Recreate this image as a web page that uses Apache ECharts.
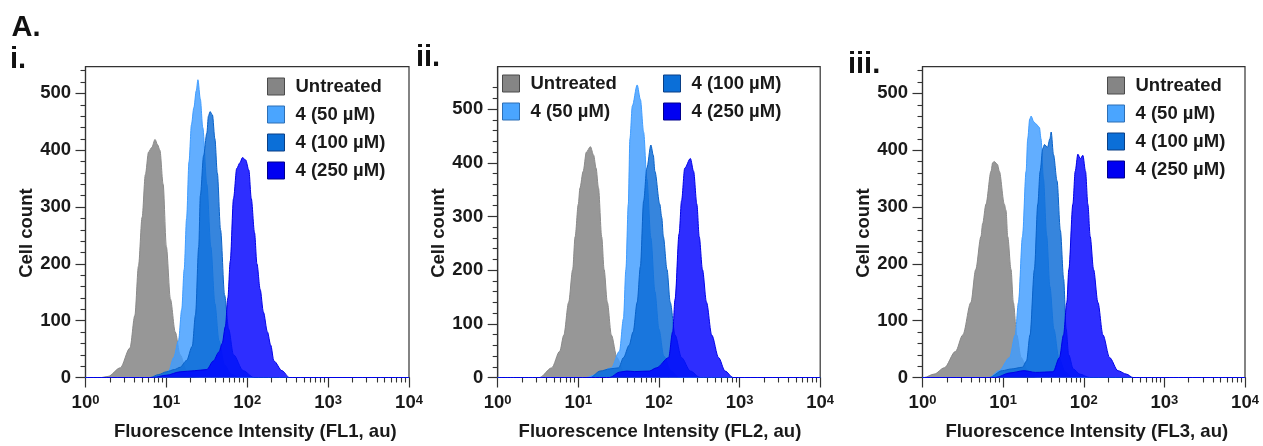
<!DOCTYPE html>
<html><head><meta charset="utf-8">
<script src="https://cdn.jsdelivr.net/npm/echarts@6/dist/echarts.min.js"></script>
<style>html,body{margin:0;padding:0;background:#fff}#c{width:1263px;height:446px}</style>
</head><body><div id="c"></div>
<script>
// ---------- text ----------
const seriesNames = ['Untreated', '4 (50 µM)', '4 (100 µM)', '4 (250 µM)'];
const figureLabel = 'A.';
const panelLabels = ['i.', 'ii.', 'iii.'];
const xTitles = ['Fluorescence Intensity (FL1, au)', 'Fluorescence Intensity (FL2, au)', 'Fluorescence Intensity (FL3, au)'];
const yTitle = 'Cell count';
const xTickExponents = ['0', '1', '2', '3', '4'];          // labels 10^n
const yTickValues = [0, 100, 200, 300, 400, 500];
const yMinorValues = [20, 40, 60, 80, 120, 140, 160, 180, 220, 240, 260, 280, 320, 340, 360, 380, 420, 440, 460, 480, 520, 540];

// ---------- data: [log10 fluorescence intensity, cell count] ----------
const fl1Untreated = [[0,0],[0.20,0],[0.28,2],[0.43,17],[0.55,52],[0.61,109],[0.655,196],[0.70,282],[0.74,357],[0.78,397],[0.82,405],[0.86,419],[0.89,410],[0.92,400],[0.96,340],[1.00,230],[1.05,138],[1.11,80],[1.17,40],[1.25,12],[1.33,2],[1.40,0],[4,0]];
const fl1C50 = [[0,0],[0.85,0],[0.95,4],[1.03,12],[1.09,35],[1.15,65],[1.19,120],[1.22,190],[1.25,280],[1.28,380],[1.31,445],[1.34,475],[1.37,505],[1.39,524],[1.42,490],[1.45,440],[1.50,340],[1.55,230],[1.60,130],[1.65,65],[1.72,22],[1.80,6],[1.90,0],[4,0]];
const fl1C100 = [[0,0],[0.80,0],[0.90,5],[1.00,10],[1.10,14],[1.17,18],[1.25,30],[1.32,55],[1.36,110],[1.40,230],[1.42,320],[1.46,390],[1.50,430],[1.52,460],[1.54,468],[1.57,462],[1.60,420],[1.63,360],[1.67,260],[1.72,145],[1.77,85],[1.83,40],[1.95,12],[2.08,0],[4,0]];
const fl1C250 = [[0,0],[0.84,0],[1.00,4],[1.17,10],[1.35,12],[1.50,14],[1.58,29],[1.65,45],[1.69,60],[1.73,90],[1.76,140],[1.79,205],[1.83,315],[1.87,368],[1.91,378],[1.94,387],[1.98,383],[2.02,365],[2.05,315],[2.09,255],[2.12,200],[2.16,155],[2.20,115],[2.25,80],[2.29,57],[2.33,29],[2.43,12],[2.52,0],[4,0]];

const fl2Untreated = [[0,0],[0.52,0],[0.67,18],[0.77,49],[0.82,79],[0.88,140],[0.93,201],[0.96,262],[1.00,323],[1.02,353],[1.06,384],[1.10,420],[1.15,430],[1.19,414],[1.22,390],[1.25,353],[1.29,262],[1.32,201],[1.36,140],[1.41,79],[1.48,37],[1.56,12],[1.64,0],[4,0]];
const fl2C50 = [[0,0],[1.10,0],[1.23,6],[1.41,18],[1.51,49],[1.56,110],[1.59,201],[1.62,323],[1.64,445],[1.67,506],[1.73,545],[1.77,518],[1.81,457],[1.85,370],[1.90,260],[1.95,160],[2.00,90],[2.06,40],[2.15,12],[2.25,0],[4,0]];
const fl2C100 = [[0,0],[1.15,0],[1.27,12],[1.39,16],[1.50,18],[1.56,37],[1.63,60],[1.68,85],[1.73,140],[1.77,207],[1.81,329],[1.85,390],[1.90,433],[1.93,414],[1.95,384],[2.01,323],[2.035,298],[2.055,262],[2.10,201],[2.14,140],[2.20,79],[2.28,37],[2.39,12],[2.51,0],[4,0]];
const fl2C250 = [[0,0],[1.39,0],[1.51,10],[1.60,12],[1.70,11],[1.88,12],[1.97,18],[2.12,37],[2.17,85],[2.20,146],[2.25,268],[2.28,329],[2.32,390],[2.39,408],[2.43,384],[2.47,323],[2.50,262],[2.54,201],[2.59,140],[2.655,79],[2.74,37],[2.82,12],[2.92,0],[4,0]];

const fl3Untreated = [[0,0],[0.02,0],[0.145,6],[0.27,17],[0.41,46],[0.50,75],[0.60,132],[0.66,190],[0.725,248],[0.746,271],[0.787,305],[0.85,363],[0.87,378],[0.89,380],[0.93,375],[0.953,363],[1.015,305],[1.036,294],[1.057,248],[1.098,190],[1.127,132],[1.169,75],[1.223,35],[1.305,12],[1.41,0],[4,0]];
const fl3C50 = [[0,0],[0.83,0],[0.95,12],[1.08,35],[1.15,75],[1.19,132],[1.24,248],[1.285,363],[1.305,420],[1.33,455],[1.347,460],[1.38,450],[1.41,446],[1.45,440],[1.47,420],[1.50,350],[1.54,250],[1.58,160],[1.63,85],[1.69,35],[1.77,10],[1.86,0],[4,0]];
const fl3C100 = [[0,0],[0.83,0],[0.99,12],[1.10,15],[1.24,18],[1.29,29],[1.334,75],[1.388,190],[1.43,305],[1.459,363],[1.492,403],[1.513,410],[1.55,405],[1.58,420],[1.596,432],[1.625,392],[1.669,346],[1.71,259],[1.751,173],[1.781,86],[1.813,40],[1.87,15],[1.95,6],[2.07,0],[4,0]];
const fl3C250 = [[0,0],[0.91,0],[1.08,8],[1.26,12],[1.40,9],[1.62,10],[1.699,35],[1.749,75],[1.79,132],[1.815,190],[1.865,305],[1.894,363],[1.927,393],[1.958,385],[1.989,391],[2.022,363],[2.051,305],[2.08,248],[2.122,190],[2.176,132],[2.238,75],[2.321,35],[2.424,12],[2.528,6],[2.61,0],[4,0]];

const panelData = [
  [fl1Untreated, fl1C50, fl1C100, fl1C250],
  [fl2Untreated, fl2C50, fl2C100, fl2C250],
  [fl3Untreated, fl3C50, fl3C100, fl3C250]
];

// ---------- style / layout ----------
const FONT = '"Liberation Sans", Arial, Helvetica, sans-serif';
const TXT = '#1a1a1a';
const AX = '#333';
const fills = ['#808080', '#3f9cff', '#0a6ad6', '#0000ff'];
const edges = ['#8a8a8a', '#3f9cff', '#0a62c8', '#0000e6'];
const legendFills = ['#858585', '#4aa5ff', '#0b6fd8', '#0000f2'];
const legendBorders = ['#4a4a4a', '#2d6fb5', '#0a3f85', '#00008c'];
const grids = [
  {left: 85.5, top: 66.7, width: 323.5, height: 316.6},
  {left: 497.7, top: 66.7, width: 322.5, height: 316.6},
  {left: 922.5, top: 66.7, width: 322.5, height: 316.6}
];
const yMax = [547, 579, 547];
const yNameGap = [49.5, 45, 48.5];
const xNamePad = [16, 2, 6];

const minorX = [];
for (let d = 0; d < 4; d++) for (let k = 2; k <= 9; k++) minorX.push(d + Math.log10(k));

const xAxis = [], yAxis = [], series = [];
for (let p = 0; p < 3; p++) {
  xAxis.push({
    type: 'value', gridIndex: p, min: 0, max: 4, interval: 1, position: 'bottom',
    axisLine: {show: true, onZero: false, lineStyle: {color: AX, width: 1.2}},
    axisTick: {show: true, length: 10, lineStyle: {color: AX, width: 1.2}},
    splitLine: {show: false},
    axisLabel: {
      margin: 16, color: TXT, fontSize: 18.5, fontWeight: 'bold', fontFamily: FONT,
      formatter: v => '10{s|' + xTickExponents[Math.round(v)] + '}',
      rich: {s: {fontSize: 13, fontWeight: 'bold', color: TXT, fontFamily: FONT, verticalAlign: 'top', lineHeight: 8}}
    },
    name: xTitles[p], nameLocation: 'middle', nameGap: 44.5,
    nameTextStyle: {fontSize: 18.5, fontWeight: 'bold', color: TXT, fontFamily: FONT, padding: [0, 0, 0, xNamePad[p]]}
  });
  xAxis.push({
    type: 'value', gridIndex: p, min: 0, max: 4, position: 'bottom',
    axisLine: {show: false}, axisLabel: {show: false}, splitLine: {show: false},
    axisTick: {show: true, length: 5, customValues: minorX, lineStyle: {color: AX, width: 1.1}}
  });
  yAxis.push({
    type: 'value', gridIndex: p, min: 0, max: yMax[p], interval: 100, position: 'left',
    axisLine: {show: true, onZero: false, lineStyle: {color: AX, width: 1.2}},
    axisTick: {show: true, length: 10, customValues: yTickValues, lineStyle: {color: AX, width: 1.2}},
    splitLine: {show: false},
    axisLabel: {margin: 14.5, color: TXT, fontSize: 18.5, fontWeight: 'bold', fontFamily: FONT, customValues: yTickValues},
    name: yTitle, nameLocation: 'middle', nameRotate: 90, nameGap: yNameGap[p],
    nameTextStyle: {fontSize: 18.5, fontWeight: 'bold', color: TXT, fontFamily: FONT, padding: [0, 22, 0, 0]}
  });
  yAxis.push({
    type: 'value', gridIndex: p, min: 0, max: yMax[p], position: 'left',
    axisLine: {show: false}, axisLabel: {show: false}, splitLine: {show: false},
    axisTick: {show: true, length: 5, customValues: yMinorValues, lineStyle: {color: AX, width: 1.1}}
  });
  for (let s = 0; s < 4; s++) {
    series.push({
      type: 'line', name: seriesNames[s], xAxisIndex: 2 * p, yAxisIndex: 2 * p,
      data: panelData[p][s], smooth: 0.3, smoothMonotone: 'x', symbol: 'none', showSymbol: false,
      silent: true, z: 2 + s,
      lineStyle: {width: 1, color: edges[s]},
      itemStyle: {color: fills[s]},
      areaStyle: {color: fills[s], opacity: 0.82}
    });
  }
}

function legendItems(idx) {
  return idx.map(i => ({name: seriesNames[i], itemStyle: {color: legendFills[i], borderColor: legendBorders[i], borderWidth: 1}}));
}
const legendBase = {
  orient: 'vertical', padding: 0, itemWidth: 17, itemHeight: 17, itemGap: 9, icon: 'rect', selectedMode: false,
  textStyle: {fontSize: 18.5, fontWeight: 'bold', color: TXT, fontFamily: FONT, padding: [0, 0, 0, 6]}
};
const legend = [
  Object.assign({}, legendBase, {left: 267, top: 77, data: legendItems([0, 1, 2, 3])}),
  Object.assign({}, legendBase, {left: 502, top: 74, data: legendItems([0, 1])}),
  Object.assign({}, legendBase, {left: 663, top: 74, data: legendItems([2, 3])}),
  Object.assign({}, legendBase, {left: 1107, top: 76, data: legendItems([0, 1, 2, 3])})
];

const labelFont = 'bold 29px ' + FONT;
const graphic = [
  {type: 'text', x: 11.5, y: 28.3, style: {text: figureLabel, font: labelFont, fill: '#111', verticalAlign: 'middle'}},
  {type: 'text', x: 10, y: 60, style: {text: panelLabels[0], font: labelFont, fill: '#111', verticalAlign: 'middle'}},
  {type: 'text', x: 416, y: 58.3, style: {text: panelLabels[1], font: labelFont, fill: '#111', verticalAlign: 'middle'}},
  {type: 'text', x: 848, y: 65, style: {text: panelLabels[2], font: labelFont, fill: '#111', verticalAlign: 'middle'}}
];

const chart = echarts.init(document.getElementById('c'), null, {renderer: 'canvas'});
chart.setOption({
  animation: false,
  backgroundColor: '#fff',
  textStyle: {fontFamily: FONT},
  grid: grids.map(g => Object.assign({show: true, borderColor: AX, borderWidth: 1.2, backgroundColor: 'transparent'}, g)),
  xAxis, yAxis, series, legend, graphic
});
</script></body></html>
